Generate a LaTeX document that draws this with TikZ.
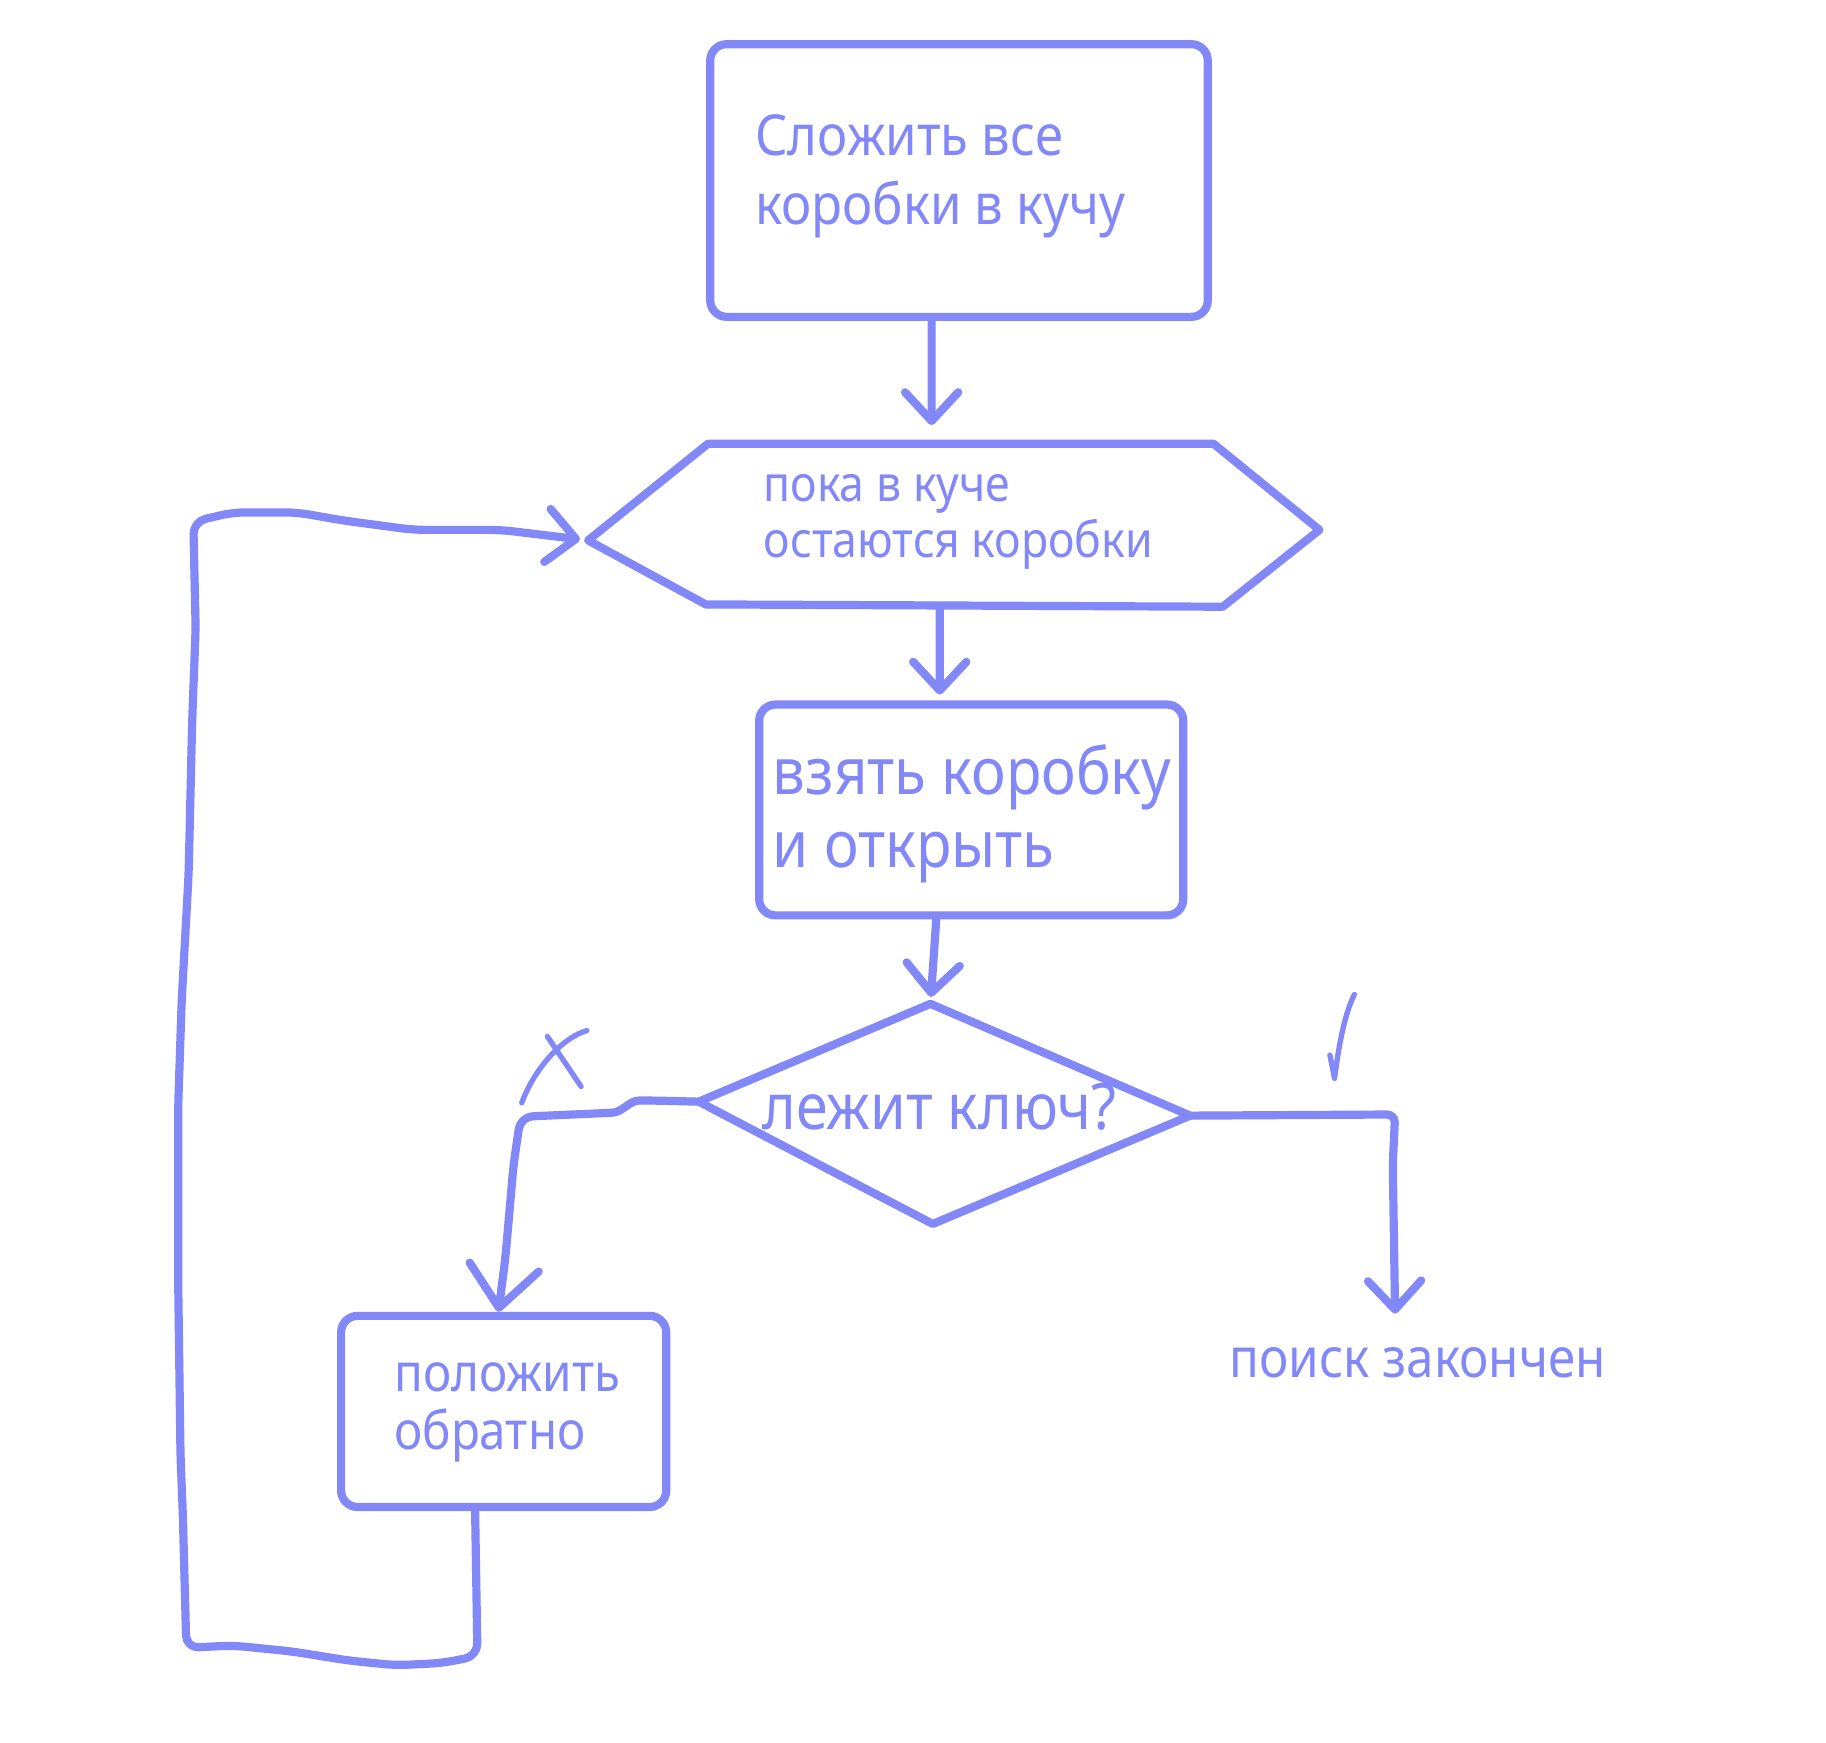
\documentclass[tikz,border=0pt]{standalone}
\usepackage{fontspec}
\setmainfont{Noto Sans}[FakeStretch=0.9]
\usetikzlibrary{arrows.meta}
\definecolor{ink}{RGB}{130,136,248}
\begin{document}
\begin{tikzpicture}[x=0.01cm,y=-0.01cm,
  line cap=round, line join=round,
  stroke/.style={draw=ink, line width=2pt},
  boxnode/.style={stroke, rounded corners=4pt, inner sep=0pt},
  txt/.style={text=ink, anchor=base west, align=left, inner sep=0pt},
  arr/.style={stroke, -{Straight Barb[length=7pt,width=13pt,round]}},
  bigarr/.style={stroke, -{Straight Barb[length=10pt,width=17pt,round]}},
  thinline/.style={draw=ink, line width=1.3pt}]
\useasboundingbox[fill=white] (0,0) rectangle (1568,1496);

% top box
\node[boxnode, minimum width=4.27cm, minimum height=2.34cm] (b1) at (823.5,155) {};
\node[txt, font=\fontsize{13.8}{16.8}\selectfont] (t1) at (648,193) {Сложить все\\коробки в кучу};

% hexagon
\coordinate (htl) at (608,381);
\coordinate (htr) at (1042,381);
\coordinate (hr) at (1133,455);
\coordinate (hbr) at (1050,521);
\coordinate (hbl) at (606,519);
\coordinate (hl) at (505,464);
\draw[stroke] (htl) -- (htr) -- (hr) -- (hbr) -- (hbl) -- (hl) -- cycle;
\coordinate (htop) at (800,381);
\coordinate (hbot) at (807,520);
\node[txt, font=\fontsize{12.1}{13.7}\selectfont] (t2) at (655,479) {пока в куче\\остаются коробки};

% box 2
\node[boxnode, minimum width=3.64cm, minimum height=1.81cm] (b2) at (834,695.5) {};
\node[txt, font=\fontsize{15.8}{17.9}\selectfont] (t3) at (663,745) {взять коробку\\и открыть};

% diamond
\coordinate (dtop) at (799,862);
\coordinate (dright) at (1022,958);
\coordinate (dbot) at (801,1051);
\coordinate (dleft) at (600,946);
\draw[stroke] (dtop) -- (dright) -- (dbot) -- (dleft) -- cycle;
\node[txt, font=\fontsize{15.6}{18}\selectfont] (t4) at (654,970) {лежит ключ?};

% box 3
\node[boxnode, minimum width=2.79cm, minimum height=1.64cm] (b3) at (432.5,1212) {};
\node[txt, font=\fontsize{12.9}{14.2}\selectfont] (t5) at (338,1245) {положить\\обратно};

% end text
\node[txt, font=\fontsize{13.4}{15}\selectfont] (t6) at (1055,1183) {поиск закончен};
\coordinate (endarr) at (1198,1128);

% arrows
\draw[arr, shorten >=0.16cm] ([xshift=-0.235cm]b1.south) -- (htop);
\draw[arr, shorten >=0.05cm] (hbot) -- ([xshift=-0.27cm]b2.north);
\draw[arr, shorten >=0.06cm] ([xshift=-0.3cm]b2.south) -- (dtop);
\draw[bigarr, rounded corners=3pt] (dleft) -- (560,945) .. controls (540,945) and (535,955) .. (515,956) -- (447,959) -- (441,1000) -- (434,1080) -- ([xshift=-0.045cm]b3.north);
\draw[arr, rounded corners=2pt] (dright) -- (1198,957) -- (1196,1000) -- (endarr);
\draw[arr, rounded corners=3pt, shorten >=0.07cm] ([xshift=-0.245cm]b3.south) -- (410,1422) -- (380,1428) -- (340,1430) -- (300,1426) -- (250,1418) -- (200,1413) -- (160,1415)
  -- (157,1300) -- (155,1250) -- (153,1100) -- (153,950) -- (156,860) -- (162,750) -- (165,620) -- (168,540) -- (166,448)
  -- (200,440) -- (255,440) -- (295,447) -- (355,455) -- (430,455) -- (hl);

% cross and check marks
\draw[thinline] (448,947) .. controls (460,915) and (485,890) .. (504,885);
\draw[thinline] (470,890) -- (499,933);
\draw[thinline] (1142,906) -- (1146,926) .. controls (1150,895) and (1155,870) .. (1163,854);
\end{tikzpicture}
\end{document}
